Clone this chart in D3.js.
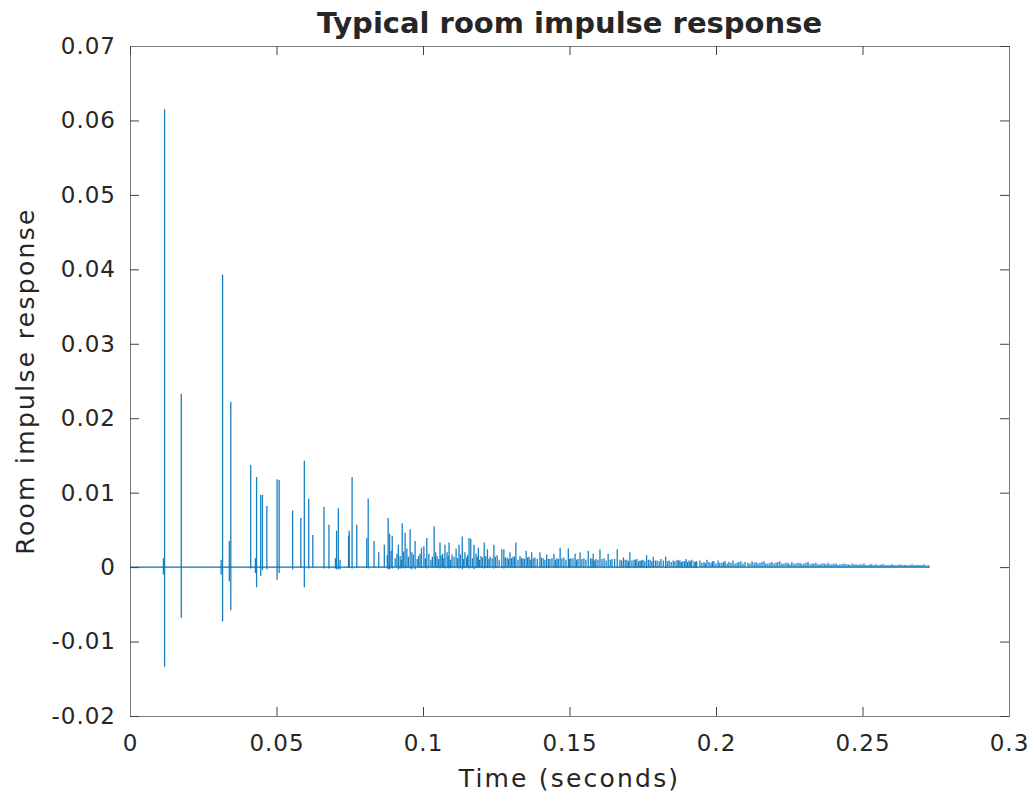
<!DOCTYPE html>
<html>
<head>
<meta charset="utf-8">
<script src="https://cdn.jsdelivr.net/npm/d3@7"></script>
<style>
  body { margin: 0; background: #fff; }
  svg text { font-family: "DejaVu Sans", sans-serif; fill: #262626; }
</style>
</head>
<body>
<svg id="chart" width="1034" height="799"></svg>
<script>
// tick values
const xTicks = [0, 0.05, 0.1, 0.15, 0.2, 0.25, 0.3];
const yTicks = [-0.02, -0.01, 0, 0.01, 0.02, 0.03, 0.04, 0.05, 0.06, 0.07];
const signalEnd = 0.273;   // last sample (s)

// early reflections: time (s), peak, trough
const reflTime = [0.0114, 0.0118, 0.0175, 0.0311, 0.0316, 0.0339, 0.0344, 0.0412, 0.0428, 0.0432,
  0.0446, 0.0452, 0.0467, 0.0502, 0.0509, 0.0555, 0.0583, 0.0595, 0.0610, 0.0624,
  0.0662, 0.0679, 0.0701, 0.0705, 0.0711, 0.0717, 0.0746, 0.0748, 0.0758, 0.0774,
  0.0808, 0.0813, 0.0833, 0.0849, 0.0868, 0.0881, 0.0886, 0.0895, 0.0916, 0.0922,
  0.0929, 0.0939, 0.0945, 0.0956, 0.0962, 0.0973, 0.0990, 0.0995, 0.1003, 0.1013,
  0.1038, 0.1048, 0.1058, 0.1067, 0.1075, 0.1082, 0.1089, 0.1099, 0.1113, 0.1123,
  0.1134, 0.1143, 0.1157, 0.1163, 0.1174, 0.1181, 0.1189, 0.1198, 0.1209, 0.1220,
  0.1229, 0.1242, 0.1253, 0.1269, 0.1276, 0.1287, 0.1297, 0.1307, 0.1317, 0.1331,
  0.1341, 0.1352, 0.1362, 0.1371, 0.1382, 0.1399, 0.1410, 0.1422, 0.1433, 0.1447,
  0.1457, 0.1468, 0.1481, 0.1496, 0.1505, 0.1519, 0.1529, 0.1536, 0.1549, 0.1564,
  0.1572, 0.1581, 0.1590, 0.1604, 0.1618, 0.1632, 0.1645, 0.1663, 0.1672, 0.1684,
  0.1696, 0.1706, 0.1720, 0.1730, 0.1741, 0.1751, 0.1763, 0.1775, 0.1786, 0.1799,
  0.1812, 0.1828, 0.1840, 0.1854, 0.1867, 0.1877, 0.1887, 0.1898, 0.1908, 0.1917,
  0.1925, 0.1934];
const reflHigh = [0.0012, 0.0615, 0.0233, 0.0010, 0.0393, 0.0035, 0.0222, 0.0137, 0.0012, 0.0121,
  0.0097, 0.0097, 0.0082, 0.0118, 0.0117, 0.0076, 0.0066, 0.0143, 0.0092, 0.0043,
  0.0081, 0.0057, 0.0012, 0.0049, 0.0079, 0.0010, 0.0042, 0.0049, 0.0121, 0.0057,
  0.0039, 0.0092, 0.0035, 0.0020, 0.0030, 0.0066, 0.0045, 0.0042, 0.0030, 0.0015,
  0.0059, 0.0046, 0.0025, 0.0051, 0.0020, 0.0035, 0.0018, 0.0026, 0.0028, 0.0039,
  0.0055, 0.0015, 0.0033, 0.0018, 0.0030, 0.0020, 0.0033, 0.0017, 0.0025, 0.0030,
  0.0041, 0.0020, 0.0039, 0.0038, 0.0030, 0.0018, 0.0026, 0.0015, 0.0033, 0.0024,
  0.0014, 0.0030, 0.0016, 0.0024, 0.0024, 0.0013, 0.0020, 0.0014, 0.0033, 0.0015,
  0.0012, 0.0022, 0.0014, 0.0020, 0.0013, 0.0020, 0.0012, 0.0017, 0.0011, 0.0018,
  0.0012, 0.0026, 0.0013, 0.0025, 0.0012, 0.0018, 0.0011, 0.0020, 0.0012, 0.0022,
  0.0012, 0.0018, 0.0011, 0.0024, 0.0012, 0.0018, 0.0011, 0.0024, 0.0010, 0.0013,
  0.0010, 0.0020, 0.0010, 0.0011, 0.0009, 0.0010, 0.0016, 0.0010, 0.0014, 0.0009,
  0.0011, 0.0014, 0.0009, 0.0009, 0.0010, 0.0009, 0.0008, 0.0011, 0.0009, 0.0010,
  0.0008, 0.0008];
const reflLow = [-0.0010, -0.0134, -0.0068, -0.0010, -0.0073, -0.0019, -0.0058, -0.0002, -0.0008, -0.0027,
  -0.0012, -0.0004, -0.0003, -0.0017, -0.0008, -0.0003, -0.0001, -0.0027, -0.0002, -0.0001,
  -0.0002, -0.0002, -0.0002, -0.0003, -0.0003, -0.0003, -0.0001, -0.0001, -0.0002, -0.0001,
  -0.0001, -0.0002, -0.0001, -0.0001, -0.0001, -0.0003, -0.0003, -0.0002, -0.0003, -0.0002,
  -0.0002, -0.0002, -0.0001, -0.0002, -0.0003, -0.0003, -0.0001, -0.0001, -0.0001, -0.0002,
  -0.0001, -0.0001, -0.0002, -0.0001, -0.0002, -0.0001, -0.0002, -0.0001, -0.0001, -0.0002,
  -0.0003, -0.0001, -0.0002, -0.0001, -0.0003, -0.0001, -0.0001, -0.0001, -0.0002, -0.0001,
  -0.0001, -0.0002, -0.0001, -0.0001, -0.0002, -0.0001, -0.0001, -0.0001, -0.0001, -0.0001,
  -0.0001, -0.0001, -0.0001, -0.0001, -0.0001, -0.0001, -0.0001, -0.0001, -0.0001, -0.0001,
  -0.0001, -0.0001, -0.0001, -0.0001, -0.0001, -0.0001, -0.0001, -0.0001, -0.0001, -0.0001,
  -0.0001, -0.0001, -0.0001, -0.0001, -0.0001, -0.0001, -0.0001, -0.0001, -0.0001, -0.0001,
  -0.0001, -0.0001, -0.0001, -0.0001, -0.0001, -0.0001, -0.0001, -0.0001, -0.0001, -0.0001,
  -0.0001, -0.0001, -0.0001, -0.0001, -0.0001, -0.0001, -0.0001, -0.0001, -0.0001, -0.0001,
  -0.0001, -0.0001];

// small dense arrivals between the stronger reflections: time (s), peak
const denseTime = [0.0878, 0.0891, 0.0905, 0.0911, 0.0926, 0.0934, 0.0950, 0.0967, 0.0980, 0.0985,
  0.1008, 0.1020, 0.1027, 0.1032, 0.1043, 0.1053, 0.1062, 0.1071, 0.1086, 0.1094,
  0.1106, 0.1118, 0.1128, 0.1138, 0.1149, 0.1152, 0.1169, 0.1185, 0.1193, 0.1203,
  0.1214, 0.1225, 0.1236, 0.1247, 0.1260, 0.1281, 0.1292, 0.1302, 0.1312, 0.1324,
  0.1336, 0.1346, 0.1357, 0.1366, 0.1376, 0.1390, 0.1404, 0.1416, 0.1428, 0.1440,
  0.1452, 0.1462, 0.1474, 0.1488, 0.1500, 0.1512, 0.1524, 0.1542, 0.1556, 0.1577,
  0.1586, 0.1597, 0.1611, 0.1625, 0.1639, 0.1654, 0.1678, 0.1690, 0.1701, 0.1713,
  0.1725, 0.1736, 0.1746, 0.1757, 0.1769, 0.1781, 0.1793, 0.1806, 0.1820, 0.1834,
  0.1847, 0.1860, 0.1872, 0.1882, 0.1893, 0.1903, 0.1912, 0.1930];
const denseHigh = [0.0016, 0.0022, 0.0012, 0.0018, 0.0010, 0.0021, 0.0014, 0.0017, 0.0011, 0.0015,
  0.0012, 0.0018, 0.0010, 0.0014, 0.0020, 0.0011, 0.0016, 0.0012, 0.0015, 0.0010,
  0.0014, 0.0012, 0.0017, 0.0011, 0.0013, 0.0016, 0.0012, 0.0014, 0.0010, 0.0013,
  0.0015, 0.0011, 0.0012, 0.0014, 0.0010, 0.0013, 0.0011, 0.0012, 0.0014, 0.0010,
  0.0012, 0.0011, 0.0013, 0.0010, 0.0012, 0.0011, 0.0013, 0.0010, 0.0011, 0.0012,
  0.0010, 0.0011, 0.0012, 0.0010, 0.0011, 0.0012, 0.0010, 0.0011, 0.0010, 0.0011,
  0.0009, 0.0010, 0.0011, 0.0009, 0.0010, 0.0011, 0.0009, 0.0010, 0.0008, 0.0009,
  0.0010, 0.0008, 0.0009, 0.0008, 0.0010, 0.0008, 0.0009, 0.0008, 0.0009, 0.0008,
  0.0007, 0.0008, 0.0009, 0.0007, 0.0008, 0.0007, 0.0008, 0.0007];

// diffuse tail: time (s), peak
const tailTime = [0.1945, 0.1952, 0.1959, 0.1964, 0.1969, 0.1976, 0.1983, 0.1988, 0.1993, 0.2000,
  0.2007, 0.2013, 0.2020, 0.2026, 0.2031, 0.2038, 0.2044, 0.2051, 0.2058, 0.2065,
  0.2072, 0.2078, 0.2085, 0.2092, 0.2099, 0.2109, 0.2116, 0.2123, 0.2130, 0.2137,
  0.2143, 0.2150, 0.2157, 0.2164, 0.2170, 0.2177, 0.2184, 0.2191, 0.2198, 0.2205,
  0.2211, 0.2218, 0.2225, 0.2232, 0.2239, 0.2246, 0.2252, 0.2259, 0.2266, 0.2273,
  0.2280, 0.2287, 0.2293, 0.2300, 0.2307, 0.2314, 0.2321, 0.2328, 0.2334, 0.2341,
  0.2348, 0.2355, 0.2362, 0.2369, 0.2375, 0.2382, 0.2389, 0.2396, 0.2403, 0.2410,
  0.2416, 0.2423, 0.2430, 0.2437, 0.2444, 0.2451, 0.2457, 0.2464, 0.2471, 0.2478,
  0.2485, 0.2491, 0.2498, 0.2505, 0.2512, 0.2519, 0.2526, 0.2532, 0.2539, 0.2546,
  0.2553, 0.2560, 0.2566, 0.2573, 0.2580, 0.2587, 0.2594, 0.2601, 0.2607, 0.2614,
  0.2621, 0.2628, 0.2635, 0.2642, 0.2648, 0.2655, 0.2662, 0.2669, 0.2676, 0.2683,
  0.2689, 0.2696, 0.2703, 0.2710, 0.2717, 0.2724];
const tailHigh = [0.0009, 0.0006, 0.0007, 0.0005, 0.0010, 0.0007, 0.0006, 0.0008, 0.0008, 0.0005,
  0.0009, 0.0006, 0.0006, 0.0007, 0.0008, 0.0005, 0.0007, 0.0006, 0.0009, 0.0005,
  0.0006, 0.0007, 0.0008, 0.0005, 0.0007, 0.0006, 0.0005, 0.0008, 0.0006, 0.0007,
  0.0005, 0.0006, 0.0007, 0.0008, 0.0005, 0.0005, 0.0006, 0.0007, 0.0005, 0.0006,
  0.0007, 0.0008, 0.0005, 0.0005, 0.0006, 0.0006, 0.0004, 0.0007, 0.0005, 0.0005,
  0.0006, 0.0006, 0.0004, 0.0005, 0.0006, 0.0007, 0.0004, 0.0005, 0.0005, 0.0006,
  0.0004, 0.0004, 0.0005, 0.0005, 0.0004, 0.0006, 0.0004, 0.0004, 0.0005, 0.0005,
  0.0003, 0.0004, 0.0004, 0.0005, 0.0004, 0.0004, 0.0003, 0.0005, 0.0004, 0.0004,
  0.0003, 0.0004, 0.0004, 0.0005, 0.0003, 0.0003, 0.0004, 0.0004, 0.0003, 0.0004,
  0.0003, 0.0003, 0.0004, 0.0004, 0.0003, 0.0003, 0.0003, 0.0004, 0.0003, 0.0003,
  0.0003, 0.0004, 0.0003, 0.0003, 0.0003, 0.0003, 0.0003, 0.0004, 0.0003, 0.0003,
  0.0003, 0.0003, 0.0003, 0.0004, 0.0002, 0.0003];

var svg = d3.select("#chart"),
    margin = { top: 46, right: 25, bottom: 83, left: 130 },
    width = 1034 - margin.left - margin.right,
    height = 799 - margin.top - margin.bottom,
    lineColor = "#0072BD";

var x = d3.scaleLinear().domain([0, 0.3]).range([0, width]);
var y = d3.scaleLinear().domain([-0.02, 0.07]).range([height, 0]);

var fmt = function (d) { return String(+d.toFixed(2)); };

var g = svg.append("g").attr("transform", `translate(${margin.left},${margin.top})`);

// zero line of the signal
g.append("line")
    .attr("x1", x(0)).attr("x2", x(signalEnd))
    .attr("y1", y(0)).attr("y2", y(0))
    .attr("stroke", lineColor).attr("stroke-width", 1.3);

function spikes(cls, times, high, low) {
    g.selectAll("line." + cls)
        .data(d3.range(times.length))
        .join("line")
        .attr("class", cls)
        .attr("x1", i => x(times[i])).attr("x2", i => x(times[i]))
        .attr("y1", i => y(low ? low[i] : 0)).attr("y2", i => y(high[i]))
        .attr("stroke", lineColor).attr("stroke-width", 1.3)
        .attr("stroke-opacity", 0.9);
}
spikes("refl", reflTime, reflHigh, reflLow);
spikes("dense", denseTime, denseHigh);
spikes("tail", tailTime, tailHigh);

// axes, ticks pointing inwards on all four sides
var tickLen = 9;
var xAxis = g.append("g").attr("transform", `translate(0,${height})`)
    .call(d3.axisBottom(x).tickValues(xTicks).tickSize(-tickLen).tickSizeOuter(0)
        .tickPadding(19).tickFormat(fmt));
var yAxis = g.append("g")
    .call(d3.axisLeft(y).tickValues(yTicks).tickSize(-tickLen).tickSizeOuter(0)
        .tickPadding(14).tickFormat(fmt));
var topAxis = g.append("g")
    .call(d3.axisTop(x).tickValues(xTicks).tickSize(-tickLen).tickSizeOuter(0).tickFormat(""));
var rightAxis = g.append("g").attr("transform", `translate(${width},0)`)
    .call(d3.axisRight(y).tickValues(yTicks).tickSize(-tickLen).tickSizeOuter(0).tickFormat(""));

[xAxis, yAxis, topAxis, rightAxis].forEach(function (a) {
    a.attr("font-size", 23).attr("font-family", "DejaVu Sans, sans-serif");
    a.select(".domain").attr("stroke", "#7a7a7a").attr("stroke-width", 1);
    a.selectAll(".tick line").attr("stroke", "#404040");
    a.selectAll(".tick text").attr("fill", "#262626").style("letter-spacing", "1px");
});

svg.append("text")
    .attr("x", margin.left + width / 2).attr("y", 33)
    .attr("text-anchor", "middle")
    .attr("font-size", 29).attr("font-weight", "bold")
    .text("Typical room impulse response");

svg.append("text")
    .attr("x", margin.left + width / 2).attr("y", 787)
    .attr("text-anchor", "middle")
    .attr("font-size", 25).style("letter-spacing", "2.2px")
    .text("Time (seconds)");

svg.append("text")
    .attr("transform", `translate(34,${margin.top + height / 2}) rotate(-90)`)
    .attr("text-anchor", "middle")
    .attr("font-size", 25).style("letter-spacing", "2.3px")
    .text("Room impulse response");
</script>
</body>
</html>
